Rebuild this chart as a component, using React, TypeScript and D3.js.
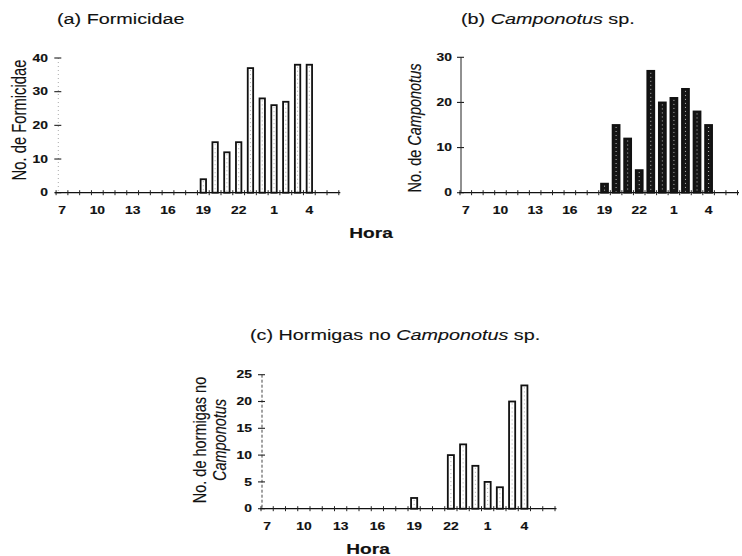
import React from 'react';
import * as d3 from 'd3';

// Hour of day, running from 7 h through the night to 6 h
const hours = ['7', '8', '9', '10', '11', '12', '13', '14', '15', '16', '17', '18', '19', '20', '21', '22', '23', '0', '1', '2', '3', '4', '5', '6'];

// Counts per hour
const formicidae = [0, 0, 0, 0, 0, 0, 0, 0, 0, 0, 0, 0, 4, 15, 12, 15, 37, 28, 26, 27, 38, 38, 0, 0];
const camponotus = [0, 0, 0, 0, 0, 0, 0, 0, 0, 0, 0, 0, 2, 15, 12, 5, 27, 20, 21, 23, 18, 15, 0, 0];
const noCamponotus = [0, 0, 0, 0, 0, 0, 0, 0, 0, 0, 0, 0, 2, 0, 0, 10, 12, 8, 5, 4, 20, 23, 0, 0];

const xTickLabels = ['7', '10', '13', '16', '19', '22', '1', '4'];
const yTicksA = [0, 10, 20, 30, 40];
const yTicksB = [0, 10, 20, 30];
const yTicksC = [0, 5, 10, 15, 20, 25];

const FONT = '"Liberation Sans", Arial, Helvetica, sans-serif';
// Lettering is set slightly widened
const SX = 1.32;

type LabelProps = {
  x: number;
  y: number;
  size: number;
  weight?: string;
  anchor?: string;
  rotate?: boolean;
  dy?: string;
  children: React.ReactNode;
};

function Label({ x, y, size, weight = 'normal', anchor = 'start', rotate = false, dy, children }: LabelProps) {
  return (
    <text
      transform={`translate(${x},${y}) scale(${SX},1)${rotate ? ' rotate(-90)' : ''}`}
      fontFamily={FONT}
      fontSize={size}
      fontWeight={weight}
      textAnchor={anchor}
      dy={dy}
      fill="#111"
      stroke="#111"
      strokeWidth={weight === 'bold' ? 0.15 : 0.12}
    >
      {children}
    </text>
  );
}

type PanelProps = {
  values: number[];
  yTicks: number[];
  yMax: number;
  x0: number;
  x1: number;
  yTop: number;
  yBottom: number;
  axisX: number;
  barFrac: number;
  dark: boolean;
  yAxisDash: string | undefined;
  yAxisColor: string;
  tickLabelRight: number;
  xLabelBaseline: number;
};

function Panel(p: PanelProps) {
  const x = d3.scaleBand<string>().domain(hours).range([p.x0, p.x1]).padding(0);
  const y = d3.scaleLinear().domain([0, p.yMax]).range([p.yBottom, p.yTop]);
  const bw = x.bandwidth();
  const barW = bw * p.barFrac;
  const y0 = y(0);
  const boundaries = d3.range(hours.length + 1).map((i) => p.x0 + i * bw);

  return (
    <g>
      {/* y axis */}
      <line x1={p.axisX} x2={p.axisX} y1={y(p.yMax)} y2={y0} stroke={p.yAxisColor} strokeWidth={1} strokeDasharray={p.yAxisDash} />
      {p.yTicks.map((t) => (
        <g key={t}>
          <line x1={p.axisX - 4} x2={p.axisX + 3} y1={y(t)} y2={y(t)} stroke="#222" strokeWidth={1.1} />
          <Label x={p.tickLabelRight} y={y(t)} size={10.5} weight="bold" anchor="end" dy="0.36em">
            {t}
          </Label>
        </g>
      ))}

      {/* x axis */}
      <line x1={p.x0 - 1} x2={p.x1 + 1.5} y1={y0} y2={y0} stroke="#111" strokeWidth={1.2} />
      {boundaries.map((bx, i) => (
        <line key={i} x1={bx} x2={bx} y1={y0 - 2.5} y2={y0 + 2.5} stroke="#222" strokeWidth={1} />
      ))}
      {xTickLabels.map((h) => (
        <Label key={h} x={(x(h) ?? 0) + bw / 2} y={p.xLabelBaseline} size={10.5} weight="bold" anchor="middle">
          {h}
        </Label>
      ))}

      {/* bars */}
      {hours.map((h, i) => {
        const v = p.values[i];
        if (!v) return null;
        const cx = (x(h) ?? 0) + bw / 2;
        const top = y(v);
        return (
          <g key={h}>
            <rect
              x={cx - barW / 2}
              y={top}
              width={barW}
              height={y0 - top}
              fill={p.dark ? '#151515' : '#fff'}
              stroke="#111"
              strokeWidth={1.8}
            />
            <line
              x1={cx}
              x2={cx}
              y1={top + 2}
              y2={y0 - 1}
              stroke={p.dark ? '#fff' : '#9a9a9a'}
              strokeOpacity={p.dark ? 0.7 : 0.8}
              strokeWidth={1}
              strokeDasharray="1 3"
            />
          </g>
        );
      })}
    </g>
  );
}

export default function App() {
  return (
    <svg
      width={742}
      height={556}
      viewBox="0 0 742 556"
      style={{ position: 'absolute', left: 0, top: 0, background: '#fff' }}
    >
      <rect width={742} height={556} fill="#fff" />

      {/* (a) Formicidae */}
      <Label x={57} y={24} size={15}>(a) Formicidae</Label>
      <Label x={26} y={120} size={14.8} anchor="middle" rotate>
        No. de Formicidae
      </Label>
      <Panel
        values={formicidae}
        yTicks={yTicksA}
        yMax={40}
        x0={56.1}
        x1={338.8}
        yTop={58}
        yBottom={192.7}
        axisX={58.3}
        barFrac={0.46}
        dark={false}
        yAxisDash="1 3"
        yAxisColor="#aaa"
        tickLabelRight={48}
        xLabelBaseline={214}
      />

      {/* (b) Camponotus sp. */}
      <Label x={461} y={24} size={15}>
        (b) <tspan fontStyle="italic">Camponotus</tspan> sp.
      </Label>
      <Label x={421} y={128} size={14.5} anchor="middle" rotate>
        No. de <tspan fontStyle="italic">Camponotus</tspan>
      </Label>
      <Panel
        values={camponotus}
        yTicks={yTicksB}
        yMax={30}
        x0={460}
        x1={737.5}
        yTop={57.3}
        yBottom={192.7}
        axisX={461}
        barFrac={0.6}
        dark={true}
        yAxisDash={undefined}
        yAxisColor="#222"
        tickLabelRight={452}
        xLabelBaseline={214}
      />

      {/* shared x title, top row */}
      <Label x={371} y={238} size={14.5} weight="bold" anchor="middle">Hora</Label>

      {/* (c) Hormigas no Camponotus sp. */}
      <Label x={250} y={340} size={15}>
        (c) Hormigas no <tspan fontStyle="italic">Camponotus</tspan> sp.
      </Label>
      <Label x={206} y={440} size={14.5} anchor="middle" rotate>
        No. de hormigas no
      </Label>
      <Label x={226} y={440} size={14.5} anchor="middle" rotate>
        <tspan fontStyle="italic">Camponotus</tspan>
      </Label>
      <Panel
        values={noCamponotus}
        yTicks={yTicksC}
        yMax={25}
        x0={261}
        x1={555}
        yTop={374.7}
        yBottom={508.7}
        axisX={262}
        barFrac={0.5}
        dark={false}
        yAxisDash="3 2"
        yAxisColor="#444"
        tickLabelRight={252}
        xLabelBaseline={530}
      />
      <Label x={368} y={554} size={14.5} weight="bold" anchor="middle">Hora</Label>
    </svg>
  );
}
